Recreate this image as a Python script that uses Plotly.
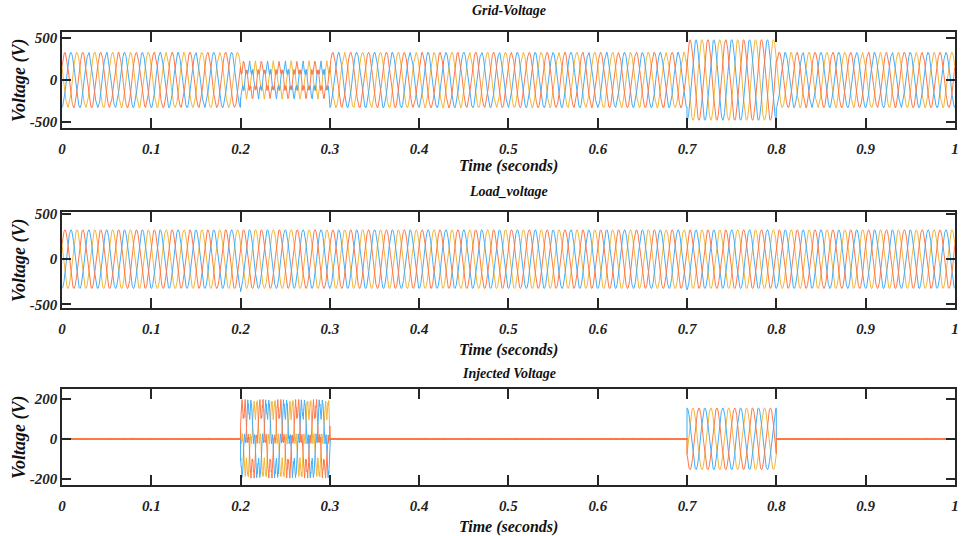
import numpy as np
import plotly.graph_objects as go

# ---------------- data ----------------
panel_titles = ["Grid-Voltage", "Load_voltage", "Injected Voltage"]
x_tick_vals = [0, 0.1, 0.2, 0.3, 0.4, 0.5, 0.6, 0.7, 0.8, 0.9, 1]
x_tick_text = ["0", "0.1", "0.2", "0.3", "0.4", "0.5", "0.6", "0.7", "0.8", "0.9", "1"]
y_tick_vals = [[-500, 0, 500], [-500, 0, 500], [-200, 0, 200]]
y_tick_text = [["-500", "0", "500"], ["-500", "0", "500"], ["-200", "0", "200"]]
y_ranges = [[-572, 572], [-541, 522], [-232, 250]]

phase_names = ["Phase A", "Phase B", "Phase C"]
phase_shift_deg = [-90, 30, 150]          # blue, orange, yellow
phase_colors = ["#45adf7", "#ff7848", "#f3b63a"]
draw_order = [2, 0, 1]                    # yellow, blue, orange on top

f_grid = 50          # Hz
nominal_peak = 325   # V
sample_rate = 20000  # Hz
t_end = 1.0

# disturbance events: sag 0.2-0.3 s (distorted), swell 0.7-0.8 s
event_start = [0.2, 0.7]
event_end = [0.3, 0.8]
event_fund_peak = [165, 480]     # grid fundamental peak during event
event_h5_peak = [50, 0]          # 5th-harmonic peak during event
event_ripple_peak = [15, 0]      # switching ripple on injected voltage
ripple_freq = 1150               # Hz
idle_ripple_peak = 4.0           # small residual on injected voltage
idle_ripple_freq = 2300          # Hz
load_transient_peak = [-35, 20, -15, 12]   # load glitches at 0.2,0.3,0.7,0.8
load_transient_time = [0.2, 0.3, 0.7, 0.8]

# ---------------- build waveforms ----------------
t = np.arange(0, t_end + 1 / sample_rate, 1 / sample_rate)
grid, load, inj = [], [], []
for p, sh in enumerate(phase_shift_deg):
    ph = 2 * np.pi * f_grid * t + np.deg2rad(sh)
    v_load = nominal_peak * np.sin(ph)
    v_inj = idle_ripple_peak * np.sin(2 * np.pi * idle_ripple_freq * t + p)
    for k in range(len(event_start)):
        m = (t >= event_start[k]) & (t < event_end[k])
        fund = (nominal_peak - event_fund_peak[k]) * np.sin(ph[m])
        h5 = -event_h5_peak[k] * np.sin(5 * ph[m])
        rip = event_ripple_peak[k] * np.sin(2 * np.pi * ripple_freq * t[m] + 2.1 * p)
        v_inj[m] = fund + h5 + rip
    v_grid = v_load - v_inj
    for tt, a in zip(load_transient_time, load_transient_peak):
        w = (t >= tt) & (t < tt + 0.003)
        v_load[w] += a * (p == 0) * np.exp(-(t[w] - tt) / 0.0008)
    grid.append(v_grid)
    load.append(v_load)
    inj.append(v_inj)

signals = [grid, load, inj]

# ---------------- figure ----------------
W, H = 962, 536
x_left, x_right = 62, 955
panel_px = [(32, 128), (212, 308), (389, 485)]
title_y = [10, 191, 373]
xlabel_y = [166, 350, 527]

font_fam = "Liberation Serif"
axcol = "#262626"

fig = go.Figure()
for i in range(3):
    xa = "x" if i == 0 else f"x{i+1}"
    ya = "y" if i == 0 else f"y{i+1}"
    for p in draw_order:
        fig.add_trace(go.Scatter(
            x=t, y=signals[i][p], mode="lines", name=phase_names[p],
            line=dict(color=phase_colors[p], width=1),
            xaxis=xa, yaxis=ya, showlegend=False, hoverinfo="skip"))
    top, bot = panel_px[i]
    xkey = "xaxis" if i == 0 else f"xaxis{i+1}"
    ykey = "yaxis" if i == 0 else f"yaxis{i+1}"
    fig.update_layout({
        xkey: dict(
            domain=[x_left / W, x_right / W], anchor=ya, range=[0, 1.0001],
            tickvals=x_tick_vals, ticktext=x_tick_text,
            ticks="inside", ticklen=10, tickwidth=1.5, tickcolor=axcol,
            showline=True, linecolor=axcol, linewidth=1.5, mirror="allticks",
            showgrid=False, zeroline=False, automargin=False,
            ticklabelstandoff=6, ticklabeloverflow="allow",
            tickfont=dict(family=font_fam, size=15, color="#222",
                          weight="bold", style="italic")),
        ykey: dict(
            domain=[1 - bot / H, 1 - top / H], anchor=xa, range=y_ranges[i],
            tickvals=y_tick_vals[i], ticktext=y_tick_text[i],
            ticks="inside", ticklen=9, tickwidth=1.5, tickcolor=axcol,
            showline=True, linecolor=axcol, linewidth=1.5, mirror="allticks",
            showgrid=False, zeroline=False, automargin=False,
            tickfont=dict(family=font_fam, size=15, color="#222",
                          weight="bold", style="italic")),
    })
    fig.add_annotation(
        text=panel_titles[i], x=(x_left + x_right) / 2 / W, y=1 - title_y[i] / H,
        xref="paper", yref="paper", showarrow=False, xanchor="center", yanchor="middle",
        font=dict(family=font_fam, size=14, color="#111", weight="bold", style="italic"))
    fig.add_annotation(
        text="Time (seconds)", x=(x_left + x_right) / 2 / W, y=1 - xlabel_y[i] / H,
        xref="paper", yref="paper", showarrow=False, xanchor="center", yanchor="middle",
        font=dict(family=font_fam, size=16, color="#111", weight="bold", style="italic"))
    fig.add_annotation(
        text="Voltage (V)", x=19 / W, y=1 - (top + bot) / 2 / H, textangle=-90,
        xref="paper", yref="paper", showarrow=False, xanchor="center", yanchor="middle",
        font=dict(family=font_fam, size=18, color="#111", weight="bold", style="italic"))

fig.update_layout(
    width=W, height=H, margin=dict(l=0, r=0, t=0, b=0),
    paper_bgcolor="white", plot_bgcolor="white", showlegend=False)

fig.write_html("out.html")
